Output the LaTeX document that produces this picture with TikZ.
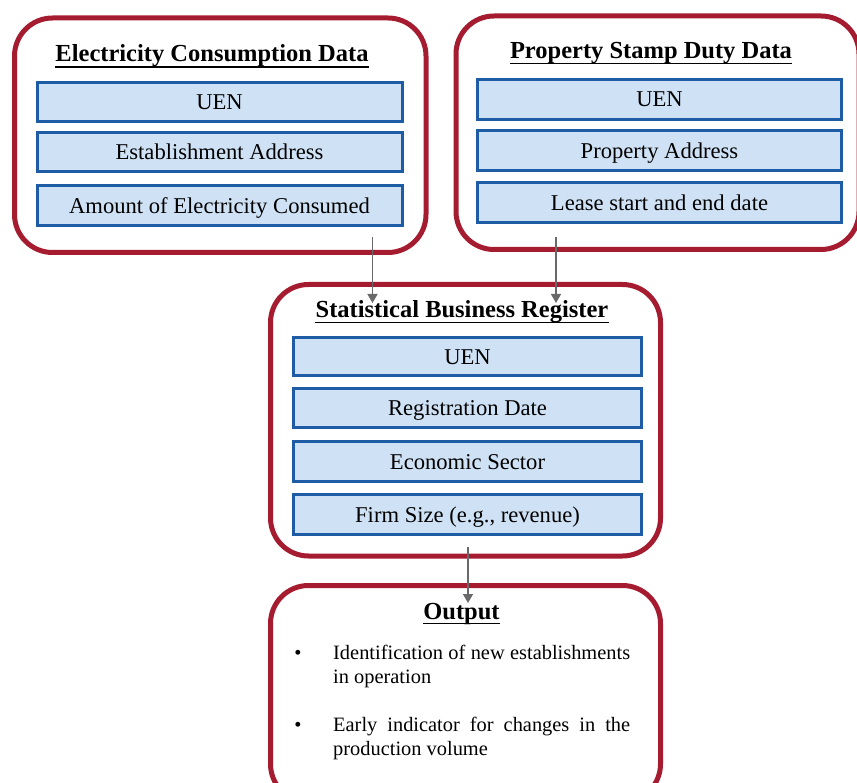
\documentclass[tikz,border=0pt]{standalone}
\usepackage{fontspec}
\setmainfont{Liberation Serif}
\usetikzlibrary{arrows.meta}

\definecolor{frameRed}{RGB}{165,27,48}
\definecolor{cellBlue}{RGB}{30,93,166}
\definecolor{cellFill}{RGB}{207,226,245}
\definecolor{flowGray}{RGB}{105,105,105}

\tikzset{
  group/.style={draw=frameRed, line width=5pt, rounded corners=38pt},
  cell/.style={draw=cellBlue, fill=cellFill, line width=3pt, inner sep=0pt,
    text height=15pt, text depth=0pt,
    font=\fontsize{22.6}{26}\selectfont},
  ttl/.style={inner sep=0pt, anchor=base, font=\fontsize{24.5}{28}\bfseries},
  uline/.style={line width=1.8pt, black},
  flow/.style={draw=flowGray, line width=1.5pt,
    -{Triangle[length=9pt, width=10pt]}, flowGray},
  outline/.style={inner sep=0pt, anchor=base west, font=\fontsize{20.4}{24}\selectfont},
  dot/.style={inner sep=0pt, anchor=base, font=\fontsize{20.4}{24}\selectfont},
}

\begin{document}
\begin{tikzpicture}[x=1pt, y=-1pt]
  \useasboundingbox (0,0) rectangle (857,783);
  \clip (0,0) rectangle (857,783);

  % ---------- Electricity consumption data ----------
  \draw[group] (14.5,18) rectangle (426,252.5);
  \node[ttl] (eT) at (212,62) {Electricity Consumption Data};
  \draw[uline] ([yshift=-5pt]eT.base west) -- ([yshift=-5pt]eT.base east);
  \node[cell, minimum width=365pt, minimum height=39pt] (eUen) at (219.5,102) {UEN};
  \node[cell, minimum width=365pt, minimum height=39pt] (eAddr) at (219.5,152) {Establishment Address};
  \node[cell, minimum width=365pt, minimum height=40pt] (eAmt) at (219.5,206) {Amount of Electricity Consumed};

  % ---------- Property stamp duty data ----------
  \draw[group] (456,16) rectangle (859,249.5);
  \node[ttl] (pT) at (651,58.5) {Property Stamp Duty Data};
  \draw[uline] ([yshift=-5pt]pT.base west) -- ([yshift=-5pt]pT.base east);
  \node[cell, minimum width=364pt, minimum height=40pt] (pUen) at (659.5,99.5) {UEN};
  \node[cell, minimum width=364pt, minimum height=40pt] (pAddr) at (659.5,151) {Property Address};
  \node[cell, minimum width=364pt, minimum height=40pt] (pLease) at (659.5,203) {Lease start and end date};

  % ---------- Statistical business register ----------
  \draw[group] (270.5,284.5) rectangle (660.5,556);
  \node[ttl] (sT) at (462,318) {Statistical Business Register};
  \draw[uline] ([yshift=-4.5pt]sT.base west) -- ([yshift=-4.5pt]sT.base east);
  \node[cell, minimum width=348pt, minimum height=38pt] (sUen) at (467.5,357) {UEN};
  \node[cell, minimum width=348pt, minimum height=39pt] (sReg) at (467.5,408) {Registration Date};
  \node[cell, minimum width=348pt, minimum height=40pt] (sSec) at (467.5,461.5) {Economic Sector};
  \node[cell, minimum width=348pt, minimum height=40pt] (sSize) at (467.5,514.5) {Firm Size (e.g., revenue)};

  % ---------- Output ----------
  \draw[group] (270.5,585.5) rectangle (660.5,802);
  \node[ttl] (oT) at (461.5,619) {Output};
  \draw[uline] ([yshift=-4.5pt]oT.base west) -- ([yshift=-4.5pt]oT.base east);

  \node[dot] (b1) at (298,659) {•};
  \node[outline] (o1a) at (333,659) {\makebox[297pt][s]{Identification of new establishments}};
  \node[outline] (o1b) at (333,683) {in operation};
  \node[dot] (b2) at (298,731) {•};
  \node[outline] (o2a) at (333,731) {\makebox[297pt][s]{Early indicator for changes in the}};
  \node[outline] (o2b) at (333,755) {production volume};

  % ---------- Flow between the groups ----------
  \coordinate (eTap) at (372.5,237);
  \coordinate (pTap) at (556,237);
  \coordinate (sTapIn1) at (372.5,303);
  \coordinate (sTapIn2) at (556,303);
  \coordinate (sTap) at (468,547);
  \coordinate (oTapIn) at (468,603);
  \draw[flow] (eTap) -- (sTapIn1);
  \draw[flow] (pTap) -- (sTapIn2);
  \draw[flow] (sTap) -- (oTapIn);
\end{tikzpicture}
\end{document}
